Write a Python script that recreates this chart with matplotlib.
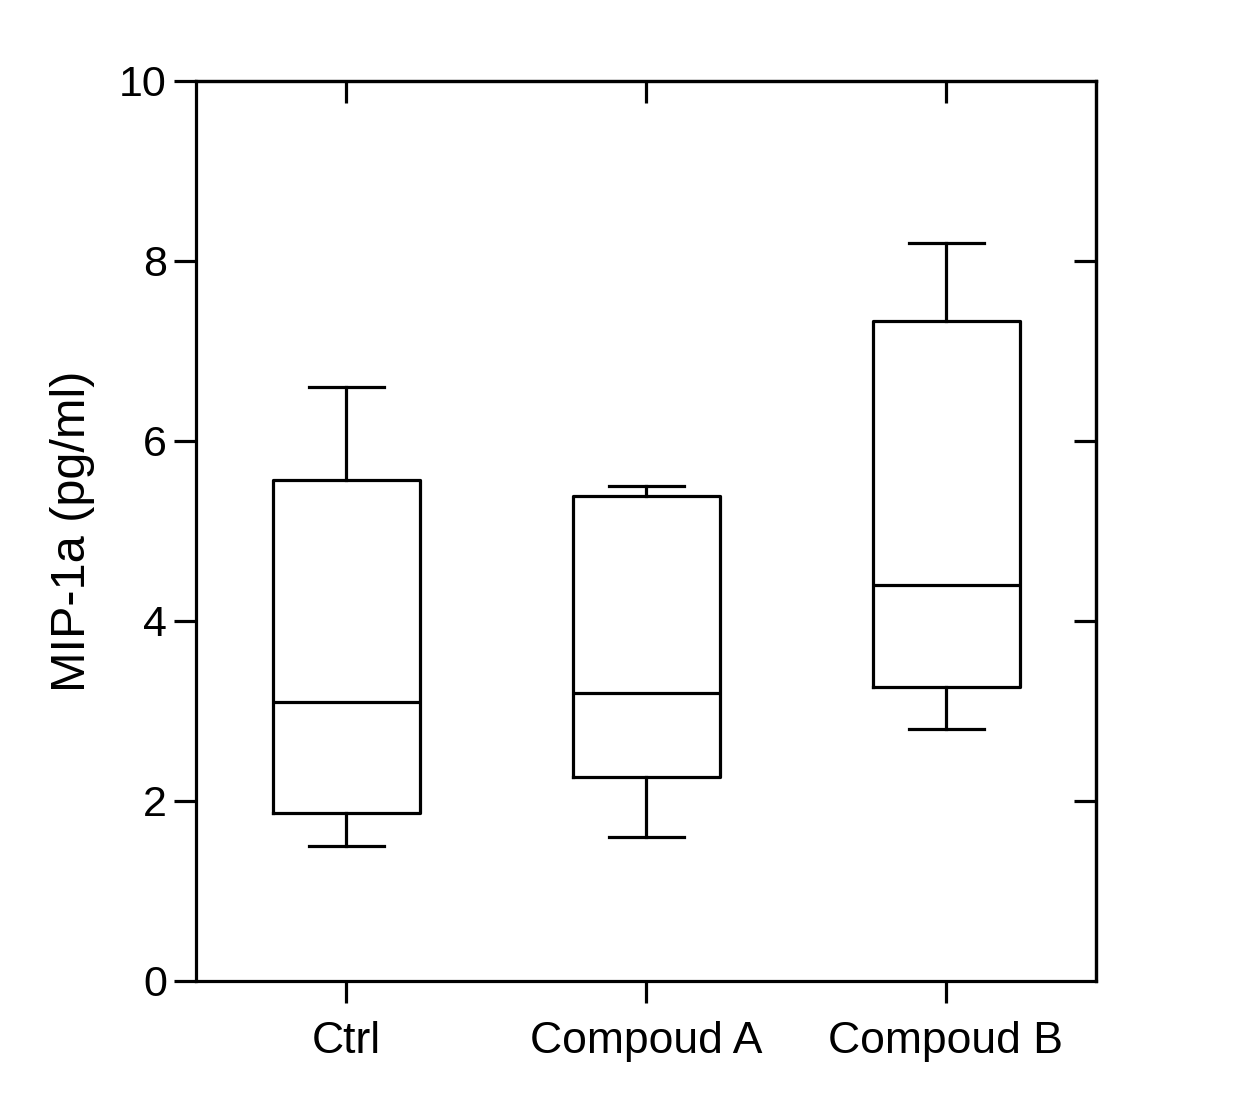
import matplotlib
matplotlib.use('Agg')
from matplotlib import pyplot as plt

# 字体：类似 Arial
plt.rcParams['font.family'] = ['Liberation Sans', 'DejaVu Sans']

# 数据
groups = ['Ctrl', 'Compoud A', 'Compoud B']
whislo = [1.5, 1.6, 2.8]
q1 = [1.87, 2.27, 3.27]
med = [3.1, 3.2, 4.4]
q3 = [5.57, 5.39, 7.33]
whishi = [6.6, 5.5, 8.2]
y_ticks = [0, 2, 4, 6, 8, 10]

stats = []
for i in range(len(groups)):
    stats.append({'label': groups[i], 'whislo': whislo[i], 'q1': q1[i],
                  'med': med[i], 'q3': q3[i], 'whishi': whishi[i], 'fliers': []})

fig = plt.figure(figsize=(12.35, 11.13), dpi=100)
ax = fig.add_axes([196 / 1235, 132 / 1113, 900 / 1235, 900 / 1113])

lw = 2.3
line = dict(color='black', linewidth=lw)
pos = [0.5, 1.5, 2.5]
ax.bxp(stats, positions=pos, widths=0.49, capwidths=0.25, showfliers=False,
       boxprops=line, whiskerprops=line, capprops=line,
       medianprops=line)

ax.set_xlim(0, 3)
ax.set_ylim(0, 10)
ax.set_yticks(y_ticks)
ax.set_xticks(pos)
ax.set_xticklabels(groups)
for s in ax.spines.values():
    s.set_linewidth(lw)

ax.tick_params(axis='y', direction='out', length=16, width=lw, labelsize=31, pad=5)
ax.tick_params(axis='x', direction='out', length=16, width=lw, labelsize=32, pad=13)

# 上方和右侧向内的刻度
top = ax.secondary_xaxis('top')
top.set_xticks(pos)
top.tick_params(direction='in', length=16, width=lw, labeltop=False)
top.spines['top'].set_linewidth(lw)
right = ax.secondary_yaxis('right')
right.set_yticks(y_ticks[1:-1])
right.tick_params(direction='in', length=16, width=lw, labelright=False)
right.spines['right'].set_linewidth(lw)

ax.set_ylabel('MIP-1a (pg/ml)', fontsize=35)
ax.yaxis.set_label_coords(-0.112, 0.5)

fig.savefig('out.png', dpi=100)
